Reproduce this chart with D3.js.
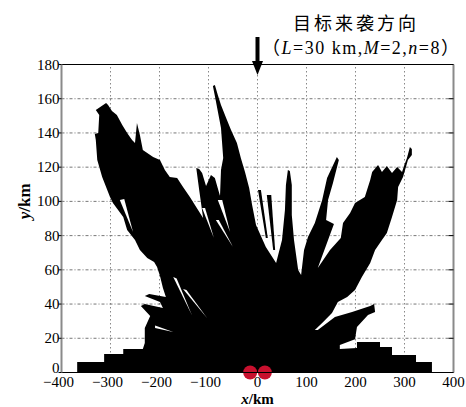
<!DOCTYPE html>
<html>
<head>
<meta charset="utf-8">
<script src="https://cdn.jsdelivr.net/npm/d3@7/dist/d3.min.js"></script>
<style>
  body { margin: 0; background: #fff; }
  svg { display: block; }
</style>
</head>
<body>
<div id="chart"></div>
<script>
// axis ticks
var xTicks = [-400, -300, -200, -100, 0, 100, 200, 300, 400];
var yTicks = [0, 20, 40, 60, 80, 100, 120, 140, 160, 180];

// outline of the covered area [x km, y km]
var coverOutline = [
  [-368,0],[-368,6.1],[-313,6.1],[-313,10.8],[-274,10.8],[-274,13.7],[-234,13.7],[-230,17.2],
  [-230,26],[-219,33],[-238,38.9],[-230,40],[-193,37.7],[-199,41.2],[-230,44.7],[-221,45.9],
  [-187,44.1],[-193,49.4],[-199,56.4],[-205,61.7],[-211,64.6],[-225,66.9],[-240,71.6],[-250,77.4],
  [-266,83.3],[-274,90.9],[-295,99.1],[-301,102.6],[-317,114.3],[-327,124.2],[-330,135.9],[-332,139.4],
  [-325,139.9],[-323,150.5],[-330,153.4],[-309,157.5],[-305,156.3],[-297,152.8],[-287,150.5],[-276,144.7],
  [-266,140],[-256,135.9],[-250,134.1],[-246,145.8],[-240,138.8],[-234,130],[-213,125.9],[-199,124.2],
  [-189,118.4],[-179,114.3],[-164,113.7],[-152,108.4],[-138,102.6],[-111,90.3],[-119,106.7],[-125,119.5],
  [-119,118.9],[-113,116.6],[-105,109],[-95,115.4],[-87,113.7],[-76.5,103.2],[-74.5,118.4],[-70,125.4],
  [-74.5,142.9],[-85,158.7],[-91,167.4],[-87,168],[-81,162.2],[-74.5,156.3],[-64,148.7],[-54,141.7],
  [-42,134.1],[-34,125.4],[-25.5,117.2],[-17,107.8],[-11,97.9],[-3,86.2],[17,73.3],[38,64],
  [50,77.4],[56,95],[58,109.6],[62,118.4],[66,117.8],[70,109.6],[70,92],[74.5,77.4],
  [83,59.9],[89,57],[95,71.6],[103,79.2],[117,87.4],[132,100.8],[142,113.7],
  [162,125.9],[166,124.2],[154,110.8],[144,100.8],[140,89.1],[156,86.8],[144,77.4],[123,61.1],
  [148,71.6],[170,78.6],[174.5,87.4],[189,93.2],[199,99.1],[219,102.6],[230,112.5],[234,117.2],
  [246,121.3],[254,117.2],[264,120.7],[274.5,116.6],[285,120.1],[295,117.2],[299,120.7],[305,125.4],
  [311,131.8],[315,130.6],[315,127.1],[307,124.2],[297,114.3],[287,108.4],[285,100.8],[274.5,90.9],
  [264,81.5],[254,77.4],[240,71.6],[230,64],[213,55.8],[199,48.2],[183,44.1],[164,41.2],
  [152,34.8],[134,29.5],[117,24.8],[123,24.8],[158,32.4],[193,35.4],[230,38.9],[238,40],
  [240,35.4],[225.5,33.6],[203,26.6],[199,19.5],[168,16.1],[168,13.7],[203,14.3],[203,17.8],
  [250,17.8],[250,14.9],[274.5,14.9],[274.5,10.2],[323.5,10.2],[323.5,6.1],[356,6.1],[356,0]
];

// thin covered streaks standing alone in the gap right of x = 0
var streaks = [
  [[1,106.7],[7,106.7],[21,78.6],[17,78.6]],
  [[19,103.7],[28,103.7],[36,71.6],[32,71.6]]
];

// uncovered gaps inside the area
var gaps = [
  [[-209,27.5],[-172,23.7],[-209,26]],
  [[-172,55.8],[-165,55],[-134,33.6]],
  [[-152,48.8],[-145,48.2],[-103,31.9]],
  [[-281,100.8],[-272,101.4],[-254,82.1]],
  [[-81,100.8],[-72,100.8],[-56,82.1]],
  [[-113,96.1],[-107,96.1],[-89,78.6]],
  [[-85,89.1],[-79,89.1],[-50,73.3]]
];

// the two sites on the ground
var sites = [-15, 15];

var W = 466, H = 407;
var margin = {left: 61.5, right: 12.5, top: 64.5, bottom: 34.5};

var svg = d3.select("#chart").append("svg")
  .attr("width", W)
  .attr("height", H);

var x = d3.scaleLinear().domain([-400, 400]).range([margin.left, W - margin.right]);
var y = d3.scaleLinear().domain([0, 180]).range([H - margin.bottom, margin.top]);

var serif = "'Liberation Serif', 'Times New Roman', serif";

// grid
svg.append("g").selectAll("line")
  .data(xTicks.slice(1, -1))
  .enter().append("line")
  .attr("x1", function(d) { return x(d); })
  .attr("x2", function(d) { return x(d); })
  .attr("y1", y(0))
  .attr("y2", y(180))
  .attr("stroke", "#888")
  .attr("stroke-dasharray", "1.5,2.5");

svg.append("g").selectAll("line")
  .data(yTicks.slice(1, -1))
  .enter().append("line")
  .attr("x1", x(-400))
  .attr("x2", x(400))
  .attr("y1", function(d) { return y(d); })
  .attr("y2", function(d) { return y(d); })
  .attr("stroke", "#777")
  .attr("stroke-dasharray", "3,2,1,2");

var line = d3.line()
  .x(function(d) { return x(d[0]); })
  .y(function(d) { return y(d[1]); })
  .curve(d3.curveLinearClosed);

svg.append("path")
  .datum(coverOutline)
  .attr("d", line)
  .attr("fill", "#000");

svg.append("g").selectAll("path")
  .data(streaks)
  .enter().append("path")
  .attr("d", line)
  .attr("fill", "#000");

svg.append("g").selectAll("path")
  .data(gaps)
  .enter().append("path")
  .attr("d", line)
  .attr("fill", "#fff");

svg.append("g").selectAll("circle")
  .data(sites)
  .enter().append("circle")
  .attr("cx", function(d) { return x(d); })
  .attr("cy", y(0))
  .attr("r", 7)
  .attr("fill", "#c8102e");

// frame
svg.append("line").attr("x1", x(-400)).attr("x2", x(400)).attr("y1", y(180)).attr("y2", y(180))
  .attr("stroke", "#000");
svg.append("line").attr("x1", x(-400)).attr("x2", x(400)).attr("y1", y(0)).attr("y2", y(0))
  .attr("stroke", "#000");
svg.append("line").attr("x1", x(-400)).attr("x2", x(-400)).attr("y1", y(0)).attr("y2", y(180))
  .attr("stroke", "#8a8a8a").attr("stroke-width", 2);
svg.append("line").attr("x1", x(400)).attr("x2", x(400)).attr("y1", y(0)).attr("y2", y(180))
  .attr("stroke", "#8a8a8a").attr("stroke-width", 2);

// y ticks and labels
var yg = svg.append("g").selectAll("g")
  .data(yTicks)
  .enter().append("g");
yg.append("line")
  .attr("x1", x(-400) - 3).attr("x2", x(-400))
  .attr("y1", function(d) { return y(d); })
  .attr("y2", function(d) { return y(d); })
  .attr("stroke", "#000");
yg.append("line")
  .attr("x1", x(400) - 5).attr("x2", x(400))
  .attr("y1", function(d) { return y(d); })
  .attr("y2", function(d) { return y(d); })
  .attr("stroke", "#000");
yg.append("text")
  .attr("x", x(-400) - 2)
  .attr("y", function(d) { return d === 0 ? y(d) : y(d) + 5; })
  .attr("text-anchor", "end")
  .style("font-family", serif)
  .style("font-size", "15px")
  .text(function(d) { return d; });

// x tick labels
svg.append("g").selectAll("text")
  .data(xTicks)
  .enter().append("text")
  .attr("x", function(d) { return x(d) - (d < 0 ? 3 : 0); })
  .attr("y", 387)
  .attr("text-anchor", "middle")
  .style("font-family", serif)
  .style("font-size", "15px")
  .text(function(d) { return d < 0 ? "\u2212" + (-d) : d; });

// axis titles
var xt = svg.append("text")
  .attr("x", x(0))
  .attr("y", 403.5)
  .attr("text-anchor", "middle")
  .style("font-family", serif)
  .style("font-size", "15px")
  .style("font-weight", "bold");
xt.append("tspan").style("font-style", "italic").text("x");
xt.append("tspan").text("/km");

var yt = svg.append("text")
  .attr("transform", "translate(30," + y(100) + ") rotate(-90)")
  .attr("text-anchor", "middle")
  .style("font-family", serif)
  .style("font-size", "17px")
  .style("font-weight", "bold");
yt.append("tspan").style("font-style", "italic").text("y");
yt.append("tspan").text("/km");

// title
svg.append("text")
  .attr("x", 293)
  .attr("y", 30)
  .style("font-family", "'Noto Sans CJK SC', sans-serif")
  .style("font-size", "18px")
  .style("letter-spacing", "3px")
  .text("目标来袭方向");

var sub = svg.append("text")
  .attr("x", 262)
  .attr("y", 54)
  .style("font-family", serif)
  .style("font-size", "18px")
  .style("letter-spacing", "1.5px");
sub.append("tspan").style("font-family", "'Noto Sans CJK SC', sans-serif").text("（");
sub.append("tspan").style("font-style", "italic").text("L");
sub.append("tspan").text("=30 km,");
sub.append("tspan").style("font-style", "italic").text("M");
sub.append("tspan").text("=2,");
sub.append("tspan").style("font-style", "italic").text("n");
sub.append("tspan").text("=8");
sub.append("tspan").style("font-family", "'Noto Sans CJK SC', sans-serif").text("）");

// arrow for attack direction
var ax = x(0);
svg.append("line")
  .attr("x1", ax).attr("x2", ax)
  .attr("y1", 37).attr("y2", 63)
  .attr("stroke", "#000")
  .attr("stroke-width", 4);
svg.append("path")
  .attr("d", "M" + (ax - 5.5) + ",61L" + (ax + 5.5) + ",61L" + ax + ",75Z")
  .attr("fill", "#000");
</script>
</body>
</html>
